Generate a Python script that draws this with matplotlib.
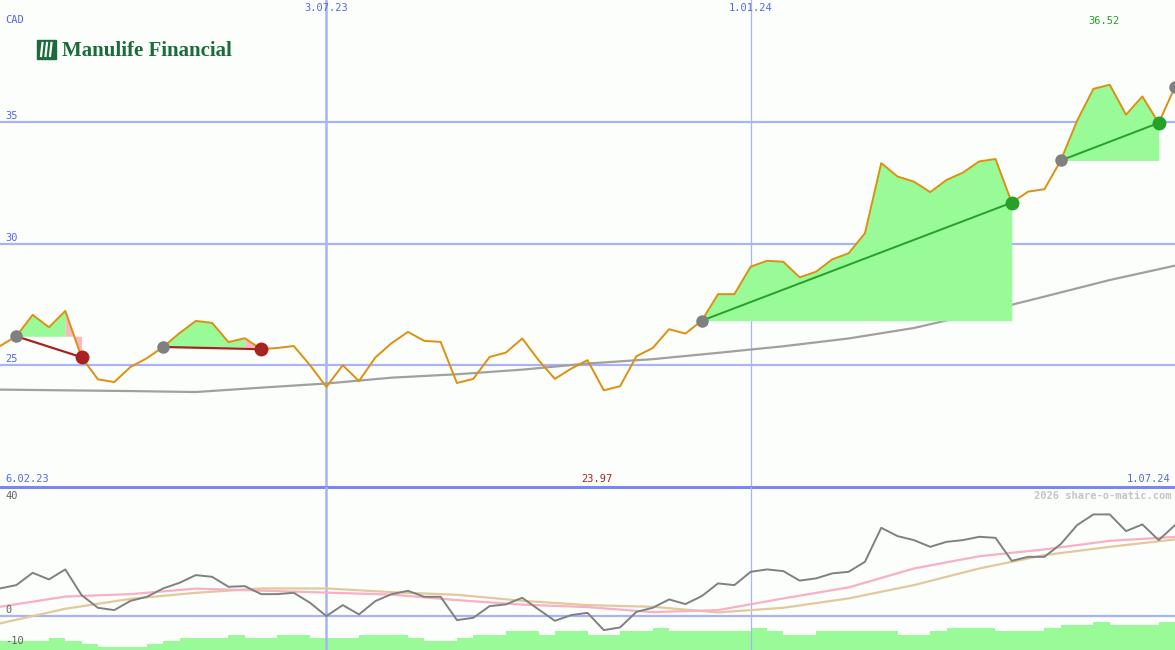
import matplotlib.pyplot as plt
from matplotlib.patches import Rectangle

# ── Data (weekly closes, CAD) ─────────────────────────────────
price = [25.79, 26.19, 27.07, 26.56, 27.23, 25.33, 24.42, 24.31, 24.93, 25.29,
         25.75, 26.32, 26.82, 26.74, 25.95, 26.11, 25.66, 25.71, 25.79, 25.00,
         24.11, 25.00, 24.35, 25.32, 25.91, 26.37, 26.00, 25.96, 24.27, 24.44,
         25.34, 25.52, 26.10, 25.21, 24.44, 24.86, 25.21, 23.97, 24.14, 25.37,
         25.71, 26.48, 26.30, 26.83, 27.92, 27.92, 29.05, 29.29, 29.25, 28.61,
         28.84, 29.35, 29.60, 30.42, 33.30, 32.75, 32.54, 32.11, 32.61, 32.91,
         33.37, 33.47, 31.68, 32.13, 32.23, 33.41, 35.04, 36.35, 36.52, 35.29,
         36.04, 34.95, 36.43]

# long moving average, read every 4 weeks
ma_idx = list(range(0, 73, 4))
ma_long = [24.00, 23.97, 23.94, 23.90, 24.08, 24.25, 24.49, 24.63, 24.82, 25.07,
           25.25, 25.51, 25.78, 26.10, 26.53, 27.15, 27.82, 28.50, 29.09]

# trades: entry / exit week index
buys_lost = [1, 10]
sells_lost = [5, 16]
buys_won = [43, 65]
sells_won = [62, 71]
open_buy = 72

# lower panel: oscillator and its two averages
osc = [9.61, 10.77, 15.09, 12.77, 16.28, 7.26, 2.81, 2.00, 5.26, 6.67,
       9.61, 11.58, 14.28, 13.68, 10.18, 10.42, 7.61, 7.61, 8.07, 4.56,
       -0.10, 3.75, 0.49, 5.16, 7.61, 8.77, 6.67, 6.67, -1.51, -0.70,
       3.40, 4.00, 6.32, 2.25, -1.75, 0.25, 1.05, -5.02, -4.07, 1.40,
       2.81, 5.75, 4.11, 6.91, 11.37, 10.77, 15.44, 16.28, 15.68, 12.35,
       13.12, 14.88, 15.44, 18.95, 30.88, 27.96, 26.56, 24.21, 25.96, 26.56,
       27.72, 27.37, 19.30, 20.70, 20.70, 25.16, 31.82, 35.58, 35.58, 29.72,
       32.07, 26.56, 31.82]
osc_pink = [3.16, 6.74, 7.61, 9.54, 8.84, 8.14, 7.44, 5.50, 3.93, 3.05,
            1.30, 2.00, 6.10, 9.96, 16.60, 20.90, 23.30, 26.30, 27.70]
osc_tan = [-2.67, 2.46, 5.96, 8.07, 9.60, 9.60, 8.30, 7.37, 5.26, 3.75,
           3.16, 1.19, 2.81, 6.10, 10.77, 16.60, 21.30, 24.20, 26.80]

# volume levels, one bar per week
volume = [3, 3, 3, 4, 3, 2, 1, 1, 1, 2, 3, 4, 4, 4, 5, 4, 4, 5, 5, 4,
          4, 4, 5, 5, 5, 4, 3, 3, 4, 5, 5, 6, 6, 5, 6, 6, 5, 5, 6, 6,
          7, 6, 6, 6, 6, 6, 7, 6, 5, 5, 6, 6, 6, 6, 6, 5, 5, 6, 7, 7,
          7, 6, 6, 6, 7, 8, 8, 9, 8, 8, 8, 9]

date_pos = [20, 46]
date_labels = ["3.07.23", "1.01.24"]
price_ticks = [35, 30, 25]

W, H = 1175, 650
BG = "#fcfefc"
GRID = "#a8b4f4"
BLUE_TXT = "#5566ee"
ORANGE = "#dc9010"
FILL_G = "#98fb98"
FILL_R = "#ffb6c1"
RED = "#a82222"
GREEN = "#26a026"

fig = plt.figure(figsize=(W / 100, H / 100), dpi=100, facecolor=BG)
split = 163 / H
ax = fig.add_axes([0, split, 1, 1 - split], facecolor=BG)
bx = fig.add_axes([0, 0, 1, split], facecolor=BG)
vx = bx.twinx()

x = list(range(len(price)))
for a in (ax, bx, vx):
    a.set_xlim(0, 72)
    a.axis("off")
ax.set_ylim(20, 40)
bx.set_ylim(-12.0, 45.2)
vx.set_ylim(0, 52.6)

# ── Top panel ─────────────────────────────────────────────────
for t in price_ticks:
    ax.axhline(t, color=GRID, lw=1.6, zorder=1)
ax.axvline(date_pos[0], color=GRID, lw=1.8, zorder=1)
ax.axvline(date_pos[1], color=GRID, lw=0.9, zorder=1)
ax.axhline(20, color="#7888ee", lw=2.2, zorder=1, clip_on=False)

ax.plot(ma_idx, ma_long, color="#a0a0a0", lw=1.6, zorder=2)

for b, s in zip(buys_lost, sells_lost):
    lvl = price[b]
    ax.fill_between(x[b:s], price[b:s], lvl, color=FILL_G, lw=0, zorder=2)
    ax.fill_between(x[s - 1:s + 1], price[s - 1:s + 1], lvl, color=FILL_R, lw=0, zorder=2)
for b, s in zip(buys_won, sells_won):
    ax.fill_between(x[b:s + 1], price[b:s + 1], price[b], color=FILL_G, lw=0, zorder=2)

ax.plot(x, price, color=ORANGE, lw=1.4, zorder=4)

for b, s in zip(buys_lost, sells_lost):
    ax.plot([b, s], [price[b], price[s]], color=RED, lw=1.6, zorder=5)
    ax.plot(s, price[s], "o", color=RED, ms=9, zorder=6)
for b, s in zip(buys_won, sells_won):
    ax.plot([b, s], [price[b], price[s]], color=GREEN, lw=1.4, zorder=5)
    ax.plot(s, price[s], "o", color=GREEN, ms=9, zorder=6)
for b in buys_lost + buys_won + [open_buy]:
    ax.plot(b, price[b], "o", color="#808080", ms=8, zorder=6, clip_on=False)

# ── Bottom panel ──────────────────────────────────────────────
bx.axhline(0, color=GRID, lw=1.6, zorder=1)
bx.axvline(date_pos[0], color=GRID, lw=1.8, zorder=1)
bx.axvline(date_pos[1], color=GRID, lw=0.9, zorder=1)
vx.bar(range(len(volume)), volume, width=1.0, align="edge", color=FILL_G, lw=0, zorder=1)
bx.plot(ma_idx, osc_tan, color="#e2c89a", lw=1.6, zorder=3)
bx.plot(ma_idx, osc_pink, color="#f8b0c4", lw=1.6, zorder=3)
bx.plot(x, osc, color="#808080", lw=1.4, zorder=4)
bx.set_zorder(vx.get_zorder() + 1)
bx.patch.set_visible(False)

# ── Text ──────────────────────────────────────────────────────
def px_text(px, py, s, **kw):
    kw.setdefault("family", "DejaVu Sans Mono")
    kw.setdefault("fontsize", 7.5)
    kw.setdefault("va", "center")
    fig.text(px / W, 1 - py / H, s, **kw)

px_text(5, 20, "CAD", color=BLUE_TXT)
for p, lab in zip(date_pos, date_labels):
    px_text(p * W / 72, 8, lab, color=BLUE_TXT, ha="center")
for t, py in zip(price_ticks, [116, 238, 359]):
    px_text(5, py, str(t), color=BLUE_TXT)
px_text(1104, 21, "36.52", color=GREEN, ha="center")
px_text(5, 479, "6.02.23", color=BLUE_TXT)
px_text(597, 479, "23.97", color=RED, ha="center")
px_text(1170, 479, "1.07.24", color=BLUE_TXT, ha="right")
px_text(1172, 496, "2026 share-o-matic.com", color="#c4c4c4", ha="right", weight="bold")
px_text(5, 496, "40", color="#606060")
px_text(5, 610, "0", color="#606060")
px_text(5, 641, "-10", color="#606060")

# logo
logo = "#1b6b3c"
fig.patches.append(Rectangle((37 / W, 1 - 59 / H), 19 / W, 19 / H,
                             transform=fig.transFigure, color=logo))
for k in range(3):
    x0 = 41 + k * 4.5
    fig.add_artist(plt.Line2D([(x0 + 1.5) / W, x0 / W], [1 - 43 / H, 1 - 56 / H],
                              transform=fig.transFigure, color="white", lw=1.6))
px_text(62, 51, "Manulife Financial", family="Liberation Serif", fontsize=15,
        weight="bold", color=logo)

fig.savefig("out.png", dpi=100, facecolor=BG)
